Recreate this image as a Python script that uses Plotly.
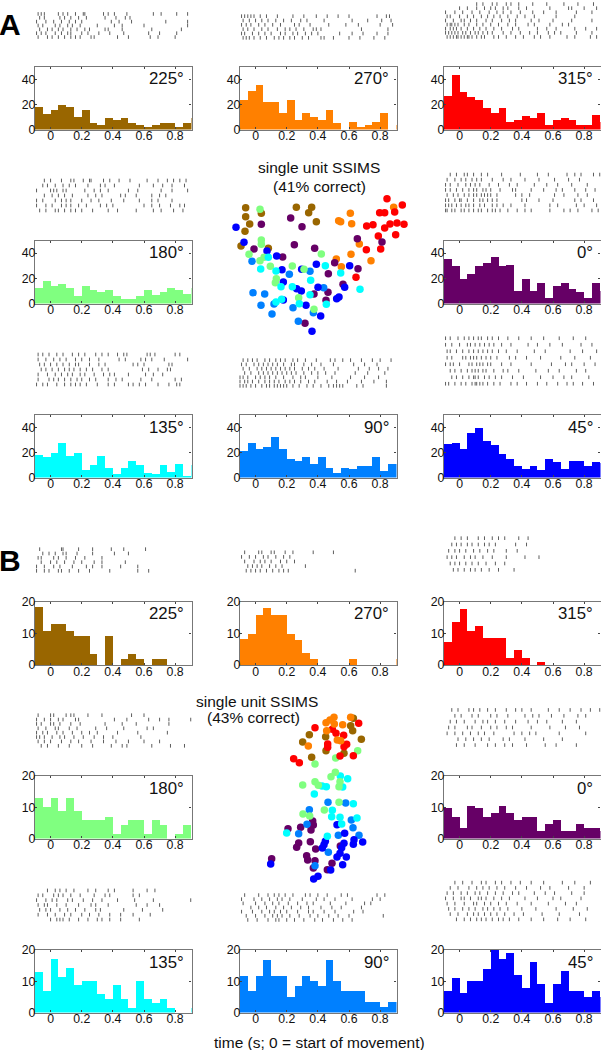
import plotly.graph_objects as go

W = 601
H = 1050
_FONT = "Liberation Sans, Arial, Helvetica, sans-serif"
_FRAME = "#777777"
_TEXT = "#111111"

BROWN = "#996600"
ORANGE = "#ff8000"
RED = "#ff0000"
GREEN = "#80ff80"
PURPLE = "#660066"
CYAN = "#00ffff"
AZURE = "#0080ff"
BLUE = "#0000ff"

# spike counts per 50 ms bin, last value is the sliver of the bin past 0.9
a_225 = [18, 12.5, 16, 20, 18, 10, 16, 5, 3.5, 9, 7.5, 9, 5, 3.5, 2, 3.5, 5, 5, 2, 5, 9]
a_270 = [24, 31, 36, 22, 22, 13, 24, 8, 13, 10, 8, 16, 5, 0, 6, 2, 4, 6, 13, 0, 4]
a_315 = [27, 44, 30, 26, 24, 17, 13, 17, 6, 7.5, 11, 9, 13, 3.5, 7.5, 9, 7.5, 3.5, 3.5, 12, 6]
a_180 = [12.5, 18, 14, 15.5, 12.5, 6, 14, 11, 9.5, 11, 6, 4, 4, 6, 11, 7.5, 9.5, 12.5, 11, 8, 12.5]
a_0 = [35.5, 30, 19.5, 24, 30, 32.5, 37.5, 30, 31, 10.5, 19.5, 10.5, 16.5, 5, 14.5, 17, 12, 9.5, 5, 17, 10]
a_135 = [18, 16.5, 20, 28, 17, 20, 6, 10, 17, 8, 3, 7.5, 13, 10, 4, 3, 10, 4.5, 11, 1, 10]
a_90 = [21, 28, 23, 24.5, 32.5, 23, 15, 13.5, 16.5, 11, 16.5, 8, 3.5, 8, 6.5, 9.5, 9.5, 16.5, 5, 11, 11]
a_45 = [26.5, 27.5, 23, 36, 40, 29, 26, 19, 15, 9, 7, 9.5, 6, 15, 12.5, 6.5, 13.5, 13.5, 9, 12.5, 12]

b_225 = [18.5, 11, 13, 13, 11, 9.3, 9.3, 3.7, 0, 9.3, 0, 1.9, 3.7, 1.9, 0, 1.9, 1.9, 0, 0, 0, 0]
b_270 = [8.2, 10, 16, 18, 16, 16, 10, 8, 4, 2, 0, 0, 0, 0, 2, 0, 0, 0, 0, 0, 2]
b_315 = [7.5, 13.8, 17.7, 11, 12.5, 8.7, 8.7, 8.7, 2.5, 5, 2.5, 0, 1.2, 0, 0, 0, 0, 0, 0, 0, 0]
b_180 = [13, 10, 13, 8.7, 13, 8.7, 5.8, 5.8, 5.8, 7, 1.4, 4.2, 5.8, 5.8, 1.4, 5.8, 4.2, 0, 1.4, 4.2, 0]
b_0 = [9.7, 7, 3.5, 10.5, 9.7, 7, 8.2, 10.5, 8.2, 5.8, 7, 7, 2.3, 4.8, 5.8, 2.3, 2.3, 4.8, 3.5, 3.5, 2.3]
b_135 = [13, 7, 17, 11.5, 14.4, 8.7, 10, 10, 5.8, 4.2, 8.7, 4.2, 1.4, 10, 4.2, 2.9, 4.2, 1.4, 0, 0, 1.4]
b_90 = [11.7, 7, 11.7, 16.8, 11.7, 11.7, 5, 8.4, 11.7, 10, 8.4, 16.8, 10, 7, 7, 7, 3.3, 3.3, 1.7, 3.3, 3.3]
b_45 = [7, 11.2, 6.2, 10, 10, 14, 20, 17.2, 19, 12, 8, 16.2, 9, 3, 9, 13.2, 7, 7, 5, 7, 5]

# raster rows, top trial group first, spike times in hundredths of a second
r_a_225 = [
    [-8, -6, -4, 5, 8, 11, 16, 21, 22, 34, 37, 41, 49, 66, 71, 81, 88],
    [-7, -4, 6, 9, 13, 18, 23, 35, 42, 48, 51],
    [-9, -3, 2, 7, 12, 16, 20, 39, 44, 52, 74, 88],
    [-8, -5, 3, 6, 11, 14, 19, 30, 41, 46, 60, 88],
    [-7, -2, 1, 5, 8, 13, 17, 22, 25, 35, 37, 46, 65, 84],
    [-9, -6, -3, 3, 7, 11, 13, 20, 24, 31, 38, 47, 63, 70, 81],
    [-8, -2, 1, 5, 9, 13, 16, 19, 26, 28, 43, 50, 64, 69, 80],
]
r_a_270 = [
    [-9, -7, -5, -3, -1, 3, 7, 14, 24, 31, 39, 46, 53, 60, 78, 84, 86],
    [-8, -4, 0, 4, 8, 13, 18, 23, 29, 33, 44, 62, 72, 81, 87],
    [-9, -6, -3, 2, 6, 11, 16, 25, 28, 35, 47, 58, 66, 80, 88],
    [-8, -5, -1, 4, 8, 14, 19, 22, 26, 31, 37, 39, 42, 68, 85],
    [-9, -7, -2, 2, 6, 10, 16, 19, 24, 27, 32, 36, 40, 54, 62, 69, 78, 85],
    [-8, -6, -4, -1, 3, 7, 12, 15, 18, 22, 25, 30, 34, 42, 44, 50, 60, 67, 76, 83],
]
r_a_315 = [
    [11, 15, 21, 24, 30, 33, 38, 47, 56, 67, 76, 86],
    [0, 5, 11, 16, 20, 23, 28, 31, 38, 43, 58, 70, 72, 80, 88],
    [-9, -3, 2, 8, 13, 19, 24, 28, 33, 39, 47, 54, 62, 75, 85],
    [-8, -6, 0, 5, 9, 14, 18, 22, 26, 31, 37, 42, 48, 62, 74],
    [-9, -4, 1, 3, 7, 11, 17, 21, 27, 32, 36, 46, 51, 60, 72, 85],
    [-8, -6, -5, -3, -1, 3, 6, 11, 15, 20, 25, 31, 36, 44, 48, 58, 66, 70],
    [-9, -6, -4, -2, 1, 5, 9, 13, 17, 22, 27, 34, 38, 50, 56, 62, 74, 81, 88],
    [-9, -7, -5, -3, -1, 2, 4, 7, 10, 12, 15, 18, 21, 28, 33, 39, 45, 50, 57, 61, 65, 75, 85],
    [-8, -6, -4, -2, -1, 1, 3, 5, 6, 8, 11, 14, 16, 22, 25, 30, 36, 41, 48, 52, 58, 69, 74, 84, 88],
]
r_a_180 = [
    [-4, 0, 7, 13, 15, 21, 25, 26, 34, 38, 44, 51, 62, 69, 75, 79, 83, 87],
    [-5, -2, 3, 8, 12, 16, 24, 32, 35, 41, 57, 66, 72, 78, 86],
    [-9, 0, 2, 4, 8, 10, 22, 28, 32, 37, 50, 56, 71, 78, 88],
    [-4, 1, 5, 9, 14, 24, 29, 33, 45, 48, 55, 65, 70, 74],
    [-9, -5, 3, 7, 10, 13, 20, 26, 31, 39, 47, 57, 65, 69, 78],
    [-9, -3, 1, 7, 10, 13, 18, 23, 32, 36, 40, 60, 65, 70, 77, 83, 86],
    [-7, -3, 3, 5, 9, 13, 16, 20, 27, 37, 43, 55, 66, 71, 79, 85],
]
r_a_0 = [
    [-6, -2, 3, 5, 9, 14, 18, 27, 39, 50, 57, 69, 74, 78, 86, 90],
    [-8, -3, 1, 4, 8, 11, 14, 21, 28, 33, 42, 51, 61, 70, 77],
    [-9, -6, -1, 4, 7, 10, 13, 19, 25, 32, 37, 48, 56, 63, 72, 82],
    [-9, -6, -2, 2, 6, 9, 11, 15, 17, 20, 26, 34, 36, 46, 54, 62, 66, 74, 81, 87],
    [-8, -4, -1, 3, 6, 9, 11, 14, 16, 18, 20, 24, 36, 40, 45, 61, 67, 76, 82],
    [-9, -7, -3, 0, 1, 5, 9, 13, 15, 18, 21, 24, 40, 43, 51, 60, 74, 78, 86],
    [-9, -7, -5, -2, 1, 4, 6, 9, 13, 16, 21, 24, 28, 33, 42, 58, 63, 75, 80, 88],
    [-9, -8, -5, -3, 1, 3, 6, 9, 12, 14, 18, 21, 23, 26, 31, 37, 42, 46, 58, 67, 71, 76, 85, 89],
]
r_a_135 = [
    [-8, -5, -1, 4, 8, 14, 18, 22, 29, 33, 37, 43, 47, 49, 62, 64, 67, 80, 83],
    [-8, -3, 2, 6, 10, 16, 20, 25, 31, 44, 48, 58, 61, 65, 73, 88],
    [-7, -4, 0, 4, 8, 12, 16, 18, 25, 31, 35, 53, 56, 60, 76, 78],
    [-6, -3, 1, 5, 9, 12, 15, 19, 23, 27, 33, 37, 59, 63, 69, 75, 77],
    [-8, -2, 3, 7, 11, 14, 19, 22, 28, 34, 38, 41, 50, 61, 66, 72],
    [-8, -1, 2, 5, 9, 13, 17, 20, 25, 29, 37, 42, 46, 58, 65, 80, 84],
    [-9, -5, -2, 4, 9, 13, 16, 19, 23, 30, 37, 41, 50, 53, 57, 61, 69, 76, 81, 83],
]
r_a_90 = [
    [-8, -5, -2, 1, 6, 9, 13, 16, 19, 24, 27, 32, 39, 48, 51, 56, 61, 68, 75, 80, 87],
    [-9, -6, -1, 2, 5, 8, 11, 14, 18, 23, 25, 31, 36, 42, 50, 63, 70, 78],
    [-8, -4, 1, 4, 7, 10, 13, 16, 19, 22, 25, 30, 34, 38, 44, 53, 66, 73, 79, 85],
    [-7, -3, 2, 5, 8, 11, 14, 17, 20, 23, 26, 31, 36, 40, 45, 51, 64, 72, 83],
    [-10, -8, -5, 0, 3, 6, 9, 13, 18, 24, 29, 32, 40, 49, 61, 70, 79],
    [-10, -7, -5, -2, 2, 6, 9, 12, 15, 19, 22, 25, 29, 34, 38, 46, 52, 59, 68, 76, 84],
    [-10, -8, -6, -3, 0, 4, 7, 9, 12, 14, 16, 18, 20, 24, 28, 33, 37, 42, 47, 50, 52, 54, 56, 65, 69, 84],
]
r_a_45 = [
    [-9, -6, -1, 3, 6, 9, 12, 14, 18, 21, 25, 31, 38, 46, 54, 64, 73, 81],
    [-9, -5, 0, 5, 7, 10, 13, 16, 19, 22, 27, 33, 44, 50, 58, 66, 78, 85],
    [-8, -6, -2, 2, 6, 9, 12, 15, 18, 21, 25, 30, 37, 48, 55, 71, 79, 88],
    [-8, -5, 2, 4, 7, 9, 11, 14, 17, 20, 24, 32, 36, 43, 52, 65, 74, 84],
    [-9, -6, -4, 0, 6, 8, 11, 13, 15, 18, 20, 27, 33, 46, 59, 68, 72, 80, 87],
    [-6, -3, 1, 5, 8, 10, 12, 15, 17, 22, 28, 31, 38, 49, 57, 64, 75, 81],
    [-5, -2, 2, 6, 9, 10, 12, 16, 19, 23, 27, 34, 41, 52, 60, 67, 72, 83],
    [-9, -7, -3, 1, 4, 8, 10, 11, 13, 15, 18, 22, 26, 33, 37, 43, 50, 56, 63, 69, 73, 79, 86],
]

r_b_225 = [
    [-7, 7, 8, 18, 27, 39, 47, 61],
    [-5, -1, 3, 8, 10, 17, 27, 41, 50],
    [-8, -6, 2, 5, 10, 16, 22, 33],
    [-6, 0, 4, 9, 15, 20, 28, 33, 48],
    [-9, -4, 2, 6, 14, 23, 27, 33, 45, 56],
    [-9, -4, -1, 5, 7, 12, 18, 25, 38, 56, 63],
]
r_b_270 = [
    [-7, 2, 4, 10, 12, 19, 24, 37, 50],
    [-9, -4, 0, 5, 8, 13, 18, 22],
    [-7, -1, 3, 6, 10, 16, 20, 25],
    [-5, -2, 1, 4, 9, 13, 17, 32],
    [-6, -3, 0, 3, 7, 11, 15, 18, 21, 64],
]
r_b_315 = [
    [-3, 1, 5, 12, 16, 21, 25, 29, 38, 44],
    [-5, -2, 1, 5, 8, 12, 16, 19, 23, 36, 43],
    [-7, -3, 0, 4, 9, 13, 18, 22, 30, 37],
    [-8, -5, -2, 3, 7, 10, 15, 21, 30, 42, 51],
    [-6, -3, 0, 4, 8, 12, 17, 23, 29],
    [-4, -1, 3, 7, 10, 14, 19, 25, 35],
]
r_b_180 = [
    [-8, 0, 2, 10, 13, 15, 24, 33, 52, 60],
    [-9, -4, 0, 5, 8, 16, 18, 41, 49, 63, 70, 76, 90],
    [-9, -6, 0, 2, 6, 13, 19, 35, 46, 55, 76],
    [-8, -3, 3, 5, 12, 17, 29, 36, 47, 62, 66],
    [-9, -5, -2, 4, 8, 14, 20, 25, 30, 43, 56, 75],
    [-9, -7, -4, 1, 6, 9, 15, 21, 28, 34, 40, 58],
    [-8, -4, 0, 7, 13, 18, 26, 34, 42, 50, 60, 70],
    [-6, -2, 5, 12, 20, 27, 39, 46, 49, 65, 77, 86],
]
r_b_0 = [
    [-5, -1, 6, 9, 13, 18, 23, 30, 36, 40, 46, 57, 64, 71, 78, 84, 90],
    [-3, 1, 8, 12, 20, 24, 31, 42, 47, 51, 59, 67, 76, 81],
    [-6, -2, 3, 10, 15, 18, 23, 29, 36, 44, 50, 56, 66, 75],
    [-7, -3, 5, 8, 14, 20, 24, 30, 34, 46, 58, 68, 77],
    [-8, -3, 2, 7, 12, 16, 22, 35, 40, 45, 49, 64, 81],
    [-1, 4, 9, 14, 19, 28, 32, 42, 54, 66],
    [-2, 3, 10, 18, 23, 29, 34, 43, 55, 62, 75],
]
r_b_135 = [
    [-2, 3, 6, 10, 15, 24, 29, 37, 41, 53, 62, 67],
    [-8, -5, 2, 5, 8, 13, 19, 28, 35, 38, 53, 57],
    [-9, -3, 1, 4, 11, 14, 21, 27, 33, 43, 54, 66, 90],
    [-8, -4, -2, 4, 10, 18, 26, 29, 37, 55, 62, 70],
    [-7, -3, 0, 6, 11, 16, 22, 29, 32, 47, 59, 72],
    [-8, -2, 3, 9, 13, 20, 25, 31, 38, 45, 53, 64],
    [0, 4, 6, 8, 12, 18, 24, 30, 33, 38, 45, 57],
]
r_b_90 = [
    [-7, 2, 8, 12, 15, 19, 24, 32, 35, 40, 46, 55, 59, 78, 83],
    [-9, -1, 4, 9, 14, 17, 22, 30, 39, 44, 51, 62, 75, 80],
    [-8, 0, 6, 11, 15, 21, 27, 33, 37, 48, 58, 70, 74],
    [-3, 2, 7, 13, 18, 23, 29, 34, 42, 49, 55, 68],
    [-9, -2, 4, 9, 12, 16, 20, 27, 34, 37, 44, 51, 63, 69],
    [-6, 0, 6, 11, 14, 17, 22, 28, 35, 40, 47, 53, 60, 82],
    [-5, 1, 8, 13, 15, 20, 25, 31, 38, 43, 50, 56, 62],
]
r_b_45 = [
    [-3, 2, 8, 14, 17, 23, 27, 33, 39, 46, 54, 66, 74, 84],
    [-6, -1, 6, 11, 15, 19, 24, 29, 36, 43, 52, 58, 70, 80],
    [-8, -4, 1, 5, 10, 13, 18, 23, 28, 34, 38, 48, 55, 61, 72, 80],
    [-9, -4, 1, 3, 7, 12, 14, 17, 22, 27, 32, 42, 50, 60, 65, 78],
    [-8, -3, 3, 9, 11, 16, 20, 25, 30, 37, 46, 57, 68, 75],
    [-7, -3, 2, 6, 10, 15, 18, 22, 26, 31, 40, 49, 62, 73, 82],
    [-6, -1, 5, 9, 12, 16, 20, 24, 29, 35, 41, 53, 64, 77],
    [-2, 3, 7, 11, 14, 17, 21, 25, 28, 32, 38, 46, 54, 63, 71, 81],
]

# SSIMS map coordinates, arbitrary units
sa_brown = [(137, 173), (184, 190), (137, 200), (149, 222), (135, 244), (123, 288), (205, 295), (289, 172), (335, 172), (326, 188), (349, 215)]
sa_orange = [(581, 172), (451, 190), (416, 212), (422, 215), (455, 221), (478, 282), (453, 313), (513, 332), (409, 327), (424, 350)]
sa_red = [(561, 146), (607, 165), (539, 188), (554, 188), (584, 186), (500, 228), (519, 224), (570, 222), (591, 219), (612, 223), (554, 234), (535, 258), (587, 254), (499, 299), (542, 297), (468, 382)]
sa_green = [(180, 178), (184, 270), (184, 283), (147, 313), (192, 322), (180, 332), (211, 349), (277, 348), (312, 358), (364, 312), (229, 386), (226, 398), (296, 443), (342, 478)]
sa_purple = [(184, 223), (272, 204), (306, 230), (162, 297), (283, 284), (344, 295), (248, 321), (472, 266), (546, 276), (404, 338), (474, 356), (385, 371), (429, 403), (384, 427), (342, 432), (378, 451), (315, 520)]
sa_cyan = [(205, 322), (182, 357), (228, 363), (376, 347), (422, 369), (332, 391), (243, 410), (277, 410), (480, 418), (330, 434), (245, 448), (228, 456), (298, 461), (379, 463)]
sa_azure = [(156, 334), (268, 373), (330, 364), (371, 413), (159, 428), (194, 432), (183, 466), (222, 462), (279, 473), (216, 492), (295, 514), (340, 488)]
sa_blue = [(108, 232), (132, 277), (201, 303), (230, 318), (246, 359), (305, 358), (349, 343), (449, 347), (250, 396), (290, 416), (304, 423), (354, 412), (434, 412), (250, 450), (318, 466), (417, 441), (410, 446), (362, 498), (336, 544)]

sb_brown = [(460, 85), (452, 107), (458, 122), (328, 134), (377, 140), (308, 156), (484, 148), (378, 182), (432, 190), (335, 202)]
sb_orange = [(402, 82), (378, 98), (390, 90), (403, 102), (428, 104), (452, 82), (380, 122), (412, 150), (422, 152), (325, 168)]
sb_red = [(476, 100), (345, 113), (397, 118), (408, 130), (431, 136), (383, 162), (432, 170), (440, 163), (383, 172), (420, 198), (460, 197), (281, 206), (298, 218)]
sb_green = [(473, 182), (407, 204), (345, 222), (406, 247), (393, 260), (420, 275), (345, 275), (308, 285), (355, 286), (417, 290), (417, 337), (373, 360), (309, 372), (329, 378)]
sb_purple = [(338, 393), (340, 405), (264, 416), (302, 412), (333, 420), (331, 455), (296, 459), (290, 472), (347, 477), (421, 468), (320, 497), (323, 510), (345, 512), (215, 506), (340, 534), (396, 520), (382, 539)]
sb_cyan = [(421, 258), (443, 266), (379, 290), (366, 288), (428, 291), (343, 312), (460, 341), (397, 361), (395, 380), (420, 382), (471, 384), (425, 402), (382, 439), (260, 429)]
sb_azure = [(384, 337), (437, 339), (328, 359), (454, 390), (321, 403), (459, 413), (296, 431), (415, 436), (477, 436), (385, 487), (345, 527)]
sb_blue = [(411, 404), (434, 430), (462, 449), (460, 463), (488, 456), (376, 454), (372, 464), (367, 474), (432, 460), (425, 473), (420, 490), (411, 501), (439, 501), (428, 524), (212, 522), (392, 540), (354, 559), (341, 567)]

X_TICKS = [0, 0.2, 0.4, 0.6, 0.8]
X_LABELS = ["0", "0.2", "0.4", "0.6", "0.8"]
BIN_CENTERS = [-0.075 + 0.05 * i for i in range(21)]
COLS = [(35, 191.5), (240, 396.5), (444, 600.5)]

fig = go.Figure()
annotations = []
_n = 0


def _new_axes(x0, x1, y0, y1, xaxis, yaxis):
    global _n
    _n += 1
    suffix = "" if _n == 1 else str(_n)
    fig.layout["xaxis" + suffix] = dict(domain=[x0 / W, x1 / W], anchor="y" + suffix, **xaxis)
    fig.layout["yaxis" + suffix] = dict(domain=[1 - y1 / H, 1 - y0 / H], anchor="x" + suffix, **yaxis)
    return "x" + suffix, "y" + suffix


def _text(x, y, text, size, anchor="center", bold=False):
    annotations.append(dict(
        x=x / W, y=1 - y / H, xref="paper", yref="paper", text=f"<b>{text}</b>" if bold else text,
        showarrow=False, xanchor=anchor, yanchor="middle", borderpad=0,
        font=dict(size=size, color="#000000" if bold else _TEXT, family=_FONT),
    ))


def add_hist(col, top, bottom, counts, color, label, ymax, yticks):
    x0, x1 = COLS[col]
    common = dict(
        showline=True, mirror="ticks", linecolor=_FRAME, linewidth=1.4, showgrid=False, zeroline=False,
        ticks="inside", ticklen=2, tickcolor="#444444", tickwidth=1,
        tickfont=dict(size=12.3, color=_TEXT, family=_FONT),
    )
    xa, ya = _new_axes(
        x0, x1, top, bottom,
        dict(range=[-0.1, 0.905], tickvals=X_TICKS, ticktext=X_LABELS, ticklabelstandoff=-5, **common),
        dict(range=[0, ymax], tickvals=yticks, ticklabelstandoff=-4, **common),
    )
    fig.add_trace(go.Bar(x=BIN_CENTERS, y=counts, width=0.05, marker=dict(color=color, line=dict(width=0)), xaxis=xa, yaxis=ya))
    _text(x0 + 150, top + 12, label, 16.8, anchor="right")


def add_raster(col, top, bottom, rows):
    x0, x1 = COLS[col]
    hidden = dict(visible=False, fixedrange=True)
    xa, ya = _new_axes(
        x0, x1, top, bottom,
        dict(range=[-10, 90.5], **hidden),
        dict(range=[len(rows) - 0.5, -0.5], **hidden),
    )
    xs = [t for row in rows for t in row]
    ys = [i for i, row in enumerate(rows) for _ in row]
    fig.add_trace(go.Scatter(
        x=xs, y=ys, mode="markers", xaxis=xa, yaxis=ya, cliponaxis=False,
        marker=dict(symbol="line-ns", size=2.6, color="#333333", line=dict(width=0.8, color="#333333")),
    ))


def add_map(x0, x1, y0, y1, groups):
    hidden = dict(visible=False, fixedrange=True)
    xa, ya = _new_axes(
        x0, x1, y0, y1,
        dict(range=[0, (x1 - x0) * 3], **hidden),
        dict(range=[(y1 - y0) * 3, 0], **hidden),
    )
    for pts, color in groups:
        fig.add_trace(go.Scatter(
            x=[p[0] for p in pts], y=[p[1] for p in pts], mode="markers", xaxis=xa, yaxis=ya,
            marker=dict(size=7.5, color=color, line=dict(width=0)),
        ))


B_Y = [0, 10, 20]
A_TICKS = [0, 20, 40]

panels = [
    (0, 67, 129.5, a_225, BROWN, "225°", 50, A_TICKS, 12, 39, r_a_225),
    (1, 67, 129.5, a_270, ORANGE, "270°", 50, A_TICKS, 14, 40, r_a_270),
    (2, 67, 129.5, a_315, RED, "315°", 50, A_TICKS, 2, 39, r_a_315),
    (0, 240.5, 303.5, a_180, GREEN, "180°", 50, A_TICKS, 178, 213, r_a_180),
    (2, 240.5, 303.5, a_0, PURPLE, "0°", 50, A_TICKS, 172, 213, r_a_0),
    (0, 415, 477.5, a_135, CYAN, "135°", 50, A_TICKS, 352, 387, r_a_135),
    (1, 415, 477.5, a_90, AZURE, "90°", 50, A_TICKS, 358, 388, r_a_90),
    (2, 415, 477.5, a_45, BLUE, "45°", 50, A_TICKS, 335, 387, r_a_45),
    (0, 601.5, 665, b_225, BROWN, "225°", 20, B_Y, 547, 573, r_b_225),
    (1, 601.5, 665, b_270, ORANGE, "270°", 20, B_Y, 550, 573, r_b_270),
    (2, 601.5, 665, b_315, RED, "315°", 20, B_Y, 535, 573, r_b_315),
    (0, 776, 838.5, b_180, GREEN, "180°", 20, B_Y, 713, 748, r_b_180),
    (2, 776, 838.5, b_0, PURPLE, "0°", 20, B_Y, 707, 748, r_b_0),
    (0, 950, 1012.5, b_135, CYAN, "135°", 20, B_Y, 888, 922, r_b_135),
    (1, 950, 1012.5, b_90, AZURE, "90°", 20, B_Y, 893, 922, r_b_90),
    (2, 950, 1012.5, b_45, BLUE, "45°", 20, B_Y, 880, 922, r_b_45),
]
for col, top, bottom, counts, color, label, ymax, yticks, rtop, rbottom, rows in panels:
    add_hist(col, top, bottom, counts, color, label, ymax, yticks)
    add_raster(col, rtop, rbottom, rows)

add_map(200, 430, 150, 350, [
    (sa_brown, BROWN), (sa_orange, ORANGE), (sa_red, RED), (sa_purple, PURPLE),
    (sa_azure, AZURE), (sa_blue, BLUE), (sa_green, GREEN), (sa_cyan, CYAN),
])
add_map(200, 400, 690, 900, [
    (sb_purple, PURPLE), (sb_azure, AZURE), (sb_blue, BLUE), (sb_cyan, CYAN),
    (sb_green, GREEN), (sb_brown, BROWN), (sb_red, RED), (sb_orange, ORANGE),
])

_text(319, 167, "single unit SSIMS", 15.5)
_text(319, 186, "(41% correct)", 15.5)
_text(256.5, 701, "single unit SSIMS", 15.5)
_text(253, 717, "(43% correct)", 15.5)
_text(319.5, 1042, "time (s; 0 = start of movement)", 15.5)
_text(10, 24, "A", 30, bold=True)
_text(10.5, 560, "B", 30, bold=True)

fig.update_layout(
    width=W, height=H, margin=dict(l=0, r=0, t=0, b=0, autoexpand=False), showlegend=False, barmode="overlay", bargap=0,
    paper_bgcolor="#ffffff", plot_bgcolor="rgba(0,0,0,0)", font=dict(family=_FONT, color=_TEXT),
    annotations=annotations,
)
fig.write_html("out.html", config={"displayModeBar": False}, post_script="document.body.style.margin='0';")
